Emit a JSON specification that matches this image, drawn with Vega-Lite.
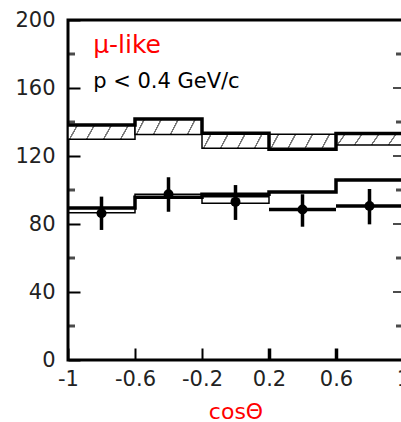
{
  "$schema": "https://vega.github.io/schema/vega-lite/v6.json",
  "autosize": "none",
  "padding": {"left": 68, "top": 20, "right": 0, "bottom": 62},
  "width": 335,
  "height": 340,
  "config": {
    "font": "DejaVu Sans",
    "view": {"stroke": "black", "strokeWidth": 3},
    "axis": {"grid": false, "domain": false}
  },
  "datasets": {
    "bins": [
      {"lo": -1, "hi": -0.6, "c": -0.8, "mcLo": 129.8, "mcHi": 138.2, "obs": 86.3, "errLo": 76.5, "errHi": 96.1, "boxLo": 86.6, "boxHi": 89.4},
      {"lo": -0.6, "hi": -0.2, "c": -0.4, "mcLo": 132.7, "mcHi": 141.8, "obs": 97.5, "errLo": 87.2, "errHi": 107.5, "boxLo": 95.7, "boxHi": 97.5},
      {"lo": -0.2, "hi": 0.2, "c": 0, "mcLo": 124.5, "mcHi": 133.4, "obs": 93, "errLo": 82.4, "errHi": 102.9, "boxLo": 92.2, "boxHi": 96.1},
      {"lo": 0.2, "hi": 0.6, "c": 0.4, "mcLo": 123.9, "mcHi": 132.8, "obs": 88.5, "errLo": 78.4, "errHi": 97.5, "boxLo": null, "boxHi": null},
      {"lo": 0.6, "hi": 1, "c": 0.8, "mcLo": 126.5, "mcHi": 133.3, "obs": 90.6, "errLo": 79.8, "errHi": 100.6, "boxLo": null, "boxHi": null}
    ],
    "steps": [
      {"x": -1, "mc": 138.2, "osc": 89.4},
      {"x": -0.6, "mc": 141.8, "osc": 95.7},
      {"x": -0.2, "mc": 133.4, "osc": 97.5},
      {"x": 0.2, "mc": 123.9, "osc": 98.8},
      {"x": 0.6, "mc": 133.3, "osc": 105.9},
      {"x": 1, "mc": 133.3, "osc": 105.9}
    ],
    "minorY": [{"v": 20}, {"v": 60}, {"v": 100}, {"v": 140}, {"v": 180}],
    "majorY": [{"v": 40}, {"v": 80}, {"v": 120}, {"v": 160}],
    "labels": [
      {"t": "μ-like", "x": -0.85, "y": 180.6}
    ],
    "labels2": [
      {"t": "p < 0.4 GeV/c", "x": -0.85, "y": 159.8}
    ]
  },
  "layer": [
    {
      "data": {"name": "bins"},
      "mark": {
        "type": "rect",
        "stroke": "black",
        "strokeWidth": 1.5,
        "fill": {
          "gradient": "linear", "x1": 0, "y1": 0, "x2": 1, "y2": 0.12,
          "stops": [
            {"offset": 0, "color": "white"},
            {"offset": 0.125, "color": "white"}, {"offset": 0.13, "color": "#777"}, {"offset": 0.15, "color": "#777"}, {"offset": 0.155, "color": "white"},
            {"offset": 0.375, "color": "white"}, {"offset": 0.38, "color": "#777"}, {"offset": 0.4, "color": "#777"}, {"offset": 0.405, "color": "white"},
            {"offset": 0.625, "color": "white"}, {"offset": 0.63, "color": "#777"}, {"offset": 0.65, "color": "#777"}, {"offset": 0.655, "color": "white"},
            {"offset": 0.875, "color": "white"}, {"offset": 0.88, "color": "#777"}, {"offset": 0.9, "color": "#777"}, {"offset": 0.905, "color": "white"},
            {"offset": 1, "color": "white"}
          ]
        }
      },
      "encoding": {
        "x": {
          "field": "lo", "type": "quantitative",
          "scale": {"domain": [-1, 1], "nice": false, "zero": false},
          "axis": {
            "title": "cosΘ",
            "values": [-1, -0.6, -0.2, 0.2, 0.6, 1],
            "tickSize": -12,
            "tickColor": "black",
            "tickWidth": {"condition": {"test": "datum.value > 0", "value": 3.5}, "value": 2},
            "labelFontSize": 21,
            "labelColor": "#222",
            "labelPadding": 20,
            "labelFlush": false,
            "labelOverlap": false,
            "labelExpr": "datum.value < 0 ? '-' + format(-datum.value, '') : format(datum.value, '')",
            "titleColor": "red",
            "titleFontSize": 22,
            "titleFontWeight": "normal",
            "titlePadding": 12
          }
        },
        "x2": {"field": "hi"},
        "y": {
          "field": "mcLo", "type": "quantitative",
          "scale": {"domain": [0, 200], "nice": false, "zero": false},
          "axis": {
            "title": null,
            "values": [0, 40, 80, 120, 160, 200],
            "tickSize": -12,
            "tickColor": "black",
            "tickWidth": 2,
            "labelFontSize": 21,
            "labelColor": "#222",
            "labelPadding": 25
          }
        },
        "y2": {"field": "mcHi"}
      }
    },
    {
      "data": {"name": "bins"},
      "transform": [{"filter": "datum.boxLo != null"}],
      "mark": {"type": "rect", "fill": "white", "fillOpacity": 0, "stroke": "black", "strokeWidth": 1.5},
      "encoding": {
        "x": {"field": "lo", "type": "quantitative"},
        "x2": {"field": "hi"},
        "y": {"field": "boxLo", "type": "quantitative"},
        "y2": {"field": "boxHi"}
      }
    },
    {
      "data": {"name": "steps"},
      "mark": {"type": "line", "interpolate": "step-after", "color": "black", "strokeWidth": 3.5},
      "encoding": {
        "x": {"field": "x", "type": "quantitative"},
        "y": {"field": "mc", "type": "quantitative"}
      }
    },
    {
      "data": {"name": "steps"},
      "mark": {"type": "line", "interpolate": "step-after", "color": "black", "strokeWidth": 3.5},
      "encoding": {
        "x": {"field": "x", "type": "quantitative"},
        "y": {"field": "osc", "type": "quantitative"}
      }
    },
    {
      "data": {"name": "bins"},
      "transform": [{"filter": "datum.boxLo == null"}],
      "mark": {"type": "rule", "color": "black", "strokeWidth": 3.5},
      "encoding": {
        "x": {"field": "lo", "type": "quantitative"},
        "x2": {"field": "hi"},
        "y": {"field": "obs", "type": "quantitative"}
      }
    },
    {
      "data": {"name": "bins"},
      "mark": {"type": "rule", "color": "black", "strokeWidth": 3.5},
      "encoding": {
        "x": {"field": "c", "type": "quantitative"},
        "y": {"field": "errLo", "type": "quantitative"},
        "y2": {"field": "errHi"}
      }
    },
    {
      "data": {"name": "bins"},
      "mark": {"type": "point", "shape": "circle", "filled": true, "color": "black", "opacity": 1, "size": 100},
      "encoding": {
        "x": {"field": "c", "type": "quantitative"},
        "y": {"field": "obs", "type": "quantitative"}
      }
    },
    {
      "data": {"name": "minorY"},
      "mark": {"type": "tick", "orient": "horizontal", "color": "black", "size": 7, "thickness": 3, "xOffset": 3.5},
      "encoding": {
        "x": {"datum": -1},
        "y": {"field": "v", "type": "quantitative"}
      }
    },
    {
      "data": {"name": "minorY"},
      "mark": {"type": "tick", "orient": "horizontal", "color": "black", "size": 7, "thickness": 3, "xOffset": -3.5},
      "encoding": {
        "x": {"datum": 1},
        "y": {"field": "v", "type": "quantitative"}
      }
    },
    {
      "data": {"name": "majorY"},
      "mark": {"type": "tick", "orient": "horizontal", "color": "black", "size": 10, "thickness": 2, "xOffset": -5},
      "encoding": {
        "x": {"datum": 1},
        "y": {"field": "v", "type": "quantitative"}
      }
    },
    {
      "data": {"name": "labels"},
      "mark": {"type": "text", "color": "red", "fontSize": 25, "align": "left", "baseline": "alphabetic"},
      "encoding": {
        "x": {"field": "x", "type": "quantitative"},
        "y": {"field": "y", "type": "quantitative"},
        "text": {"field": "t"}
      }
    },
    {
      "data": {"name": "labels2"},
      "mark": {"type": "text", "color": "black", "fontSize": 21, "align": "left", "baseline": "alphabetic"},
      "encoding": {
        "x": {"field": "x", "type": "quantitative"},
        "y": {"field": "y", "type": "quantitative"},
        "text": {"field": "t"}
      }
    }
  ]
}
